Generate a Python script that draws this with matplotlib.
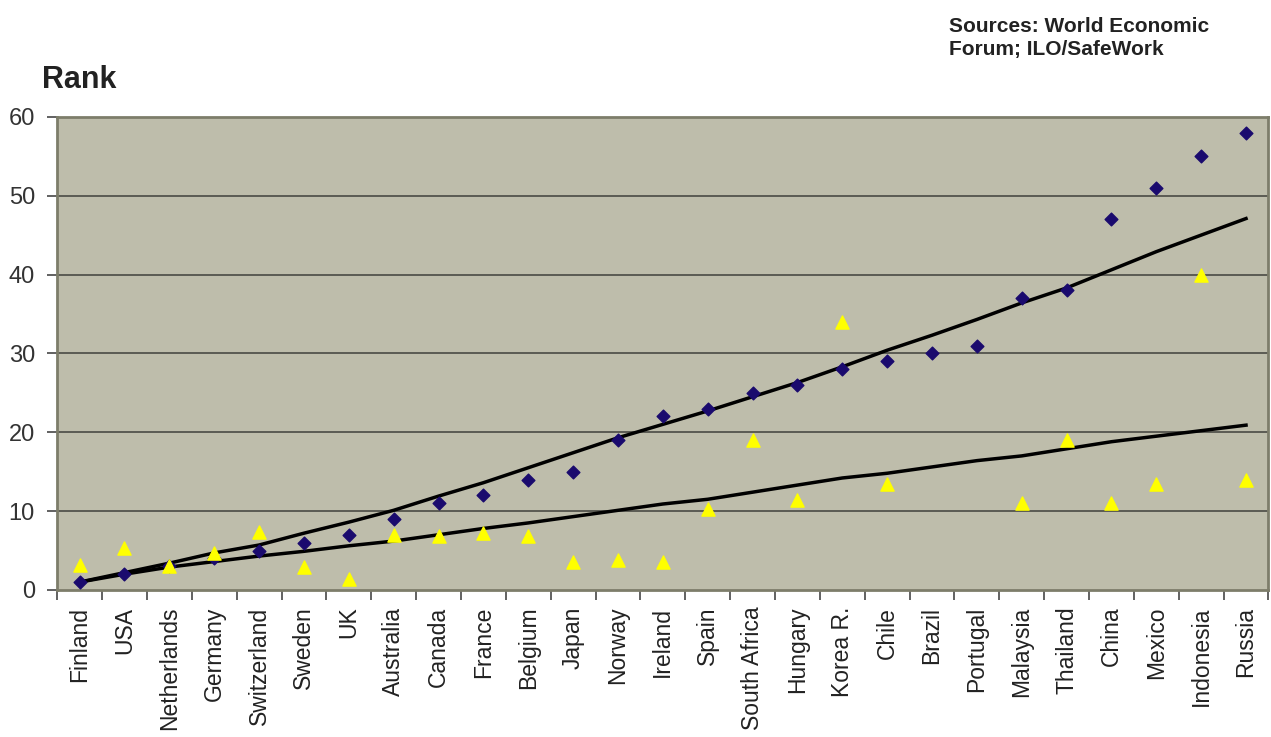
import numpy as np
import matplotlib.pyplot as plt

plt.rcParams['font.family'] = ['Liberation Sans', 'DejaVu Sans']

countries = ["Finland", "USA", "Netherlands", "Germany", "Switzerland", "Sweden", "UK",
             "Australia", "Canada", "France", "Belgium", "Japan", "Norway", "Ireland",
             "Spain", "South Africa", "Hungary", "Korea R.", "Chile", "Brazil", "Portugal",
             "Malaysia", "Thailand", "China", "Mexico", "Indonesia", "Russia"]

# competitiveness rank (diamonds)
rank_wef = [1, 2, 3, 4, 5, 6, 7, 9, 11, 12, 14, 15, 19, 22, 23, 25, 26, 28, 29, 30, 31,
            37, 38, 47, 51, 55, 58]
# safety rank (triangles), Brazil/Portugal not shown
rank_ilo = [3.2, 5.3, 3.0, 4.7, 7.3, 2.9, 1.4, 7.0, 6.8, 7.2, 6.8, 3.6, 3.8, 3.6, 10.3,
            19.0, 11.4, 34.0, 13.5, np.nan, np.nan, 11.0, 19.0, 11.0, 13.5, 40.0, 14.0]
# trend lines as drawn
trend_wef = [1.0, 2.2, 3.4, 4.7, 5.7, 7.2, 8.6, 10.1, 11.9, 13.6, 15.5, 17.4, 19.3, 21.0,
             22.7, 24.5, 26.3, 28.3, 30.4, 32.3, 34.3, 36.4, 38.3, 40.6, 42.9, 45.0, 47.1]
trend_ilo = [1.0, 2.0, 2.9, 3.6, 4.3, 4.9, 5.6, 6.2, 7.0, 7.8, 8.5, 9.3, 10.1, 10.9, 11.5,
             12.4, 13.3, 14.2, 14.8, 15.6, 16.4, 17.0, 17.9, 18.8, 19.5, 20.2, 20.9]

x = np.arange(len(countries))

fig = plt.figure(figsize=(12.71, 7.37), dpi=100)
ax = fig.add_axes([0.045, 0.1995, 0.953, 0.642])
ax.set_facecolor('#BEBDAB')

for v in range(10, 60, 10):
    ax.axhline(v, color='#4a4a44', linewidth=1.2, zorder=1)

ax.plot(x, trend_wef, color='black', linewidth=2.5, zorder=2)
ax.plot(x, trend_ilo, color='black', linewidth=2.5, zorder=2)
ax.scatter(x, rank_wef, marker='D', s=42, color='#1a0a6e', zorder=3)
ax.scatter(x, rank_ilo, marker='^', s=90, color='#ffff00', zorder=3)

ax.set_xlim(-0.5, len(countries) - 0.5)
ax.set_ylim(0, 60)
ax.set_yticks(range(0, 61, 10))
ax.set_xticks(np.arange(-0.5, len(countries), 1.0))
ax.set_xticklabels([])
ax.set_xticks(x, minor=True)
ax.set_xticklabels(countries, minor=True, rotation=90, fontsize=16.5, color='#222222')
ax.tick_params(axis='x', which='minor', length=0, pad=12)
ax.tick_params(axis='x', which='major', length=7, width=1.3, color='#555555')
ax.tick_params(axis='y', length=7, width=1.3, color='#555555', labelsize=17,
               labelcolor='#333333', pad=9)
for s in ax.spines.values():
    s.set_color('#7d7d6a')
    s.set_linewidth(2)

fig.text(0.033, 0.88, "Rank", fontsize=22, fontweight='bold', color='#222222')
fig.text(0.747, 0.925, "Sources: World Economic\nForum; ILO/SafeWork", fontsize=15,
         fontweight='bold', color='#222222', linespacing=1.3)

fig.savefig('out.png', dpi=100)
